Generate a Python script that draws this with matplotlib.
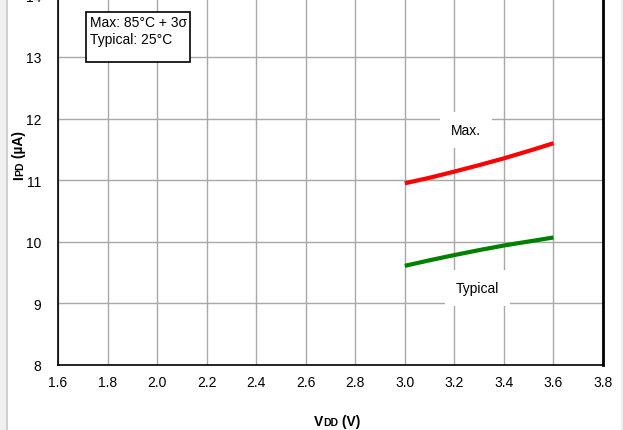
import matplotlib
matplotlib.use("Agg")
import matplotlib.pyplot as plt
from matplotlib.offsetbox import TextArea, HPacker, AnchoredOffsetbox
from matplotlib.patches import Rectangle

plt.rcParams['font.family'] = ['Liberation Sans', 'DejaVu Sans']

# data
vdd = [3.0, 3.1, 3.2, 3.3, 3.4, 3.5, 3.6]
ipd_max = [10.95, 11.04, 11.14, 11.245, 11.355, 11.475, 11.6]
ipd_typ = [9.61, 9.70, 9.785, 9.865, 9.94, 10.005, 10.07]
xticks = [1.6, 1.8, 2.0, 2.2, 2.4, 2.6, 2.8, 3.0, 3.2, 3.4, 3.6, 3.8]
yticks = [8, 9, 10, 11, 12, 13, 14]

fig = plt.figure(figsize=(6.23, 4.31), dpi=100)
W, H = 623, 431
ax = fig.add_axes([58 / W, (H - 366) / H, 545 / W, 369.6 / H])

ax.plot(vdd, ipd_max, color='#ff0000', lw=3, solid_capstyle='butt')
ax.plot(vdd, ipd_typ, color='#008000', lw=3, solid_capstyle='butt')

ax.set_xlim(1.6, 3.8)
ax.set_ylim(8, 14)
ax.set_xticks(xticks)
ax.set_xticklabels(['%.1f' % t for t in xticks])
ax.set_yticks(yticks)
ax.tick_params(length=0, labelsize=10)
ax.tick_params(axis='x', pad=7)
ax.tick_params(axis='y', pad=12)
ax.grid(True, color='#a8a8a8', lw=1)
ax.set_axisbelow(True)
for s in ['left', 'bottom']:
    ax.spines[s].set_linewidth(1.2)
ax.spines['right'].set_linewidth(2)
ax.spines['top'].set_visible(False)

# curve labels with white background
ax.text(3.247, 11.82, 'Max.', ha='center', va='center', fontsize=10,
        bbox=dict(facecolor='white', edgecolor='none', pad=8))
ax.text(3.294, 9.25, 'Typical', ha='center', va='center', fontsize=10,
        bbox=dict(facecolor='white', edgecolor='none', pad=8))

# condition box
fig.add_artist(Rectangle((86 / W, (H - 63) / H), 104 / W, 50 / H,
                         transform=fig.transFigure, facecolor='white',
                         edgecolor='black', lw=1.2, zorder=5))
fig.text(90 / W, (H - 23) / H, 'Max: 85°C + 3σ', ha='left', va='center',
         fontsize=10, zorder=6)
fig.text(90 / W, (H - 40) / H, 'Typical: 25°C', ha='left', va='center',
         fontsize=10, zorder=6)

# x label: V DD (V) with small DD
bold = dict(fontweight='bold', fontsize=10)
small = dict(fontweight='bold', fontsize=7.5)
xl = HPacker(children=[TextArea('V', textprops=bold),
                       TextArea('DD', textprops=small),
                       TextArea(' (V)', textprops=bold)],
             align='baseline', pad=0, sep=0)
fig.add_artist(AnchoredOffsetbox(loc='center', child=xl, frameon=False,
                                 bbox_to_anchor=(337 / W, (H - 422) / H),
                                 bbox_transform=fig.transFigure, pad=0,
                                 borderpad=0))

# y label: I PD (uA), rotated, pieces laid end to end
renderer = fig.canvas.get_renderer()
yb = H - 180
xb = 23
for s, props in [('I', bold), ('PD', small), (' (µA)', bold)]:
    t = fig.text(xb / W, yb / H, s, rotation=90, rotation_mode='anchor',
                 ha='left', va='baseline', **props)
    yb += t.get_window_extent(renderer).height

# window border bits
fig.add_artist(Rectangle((0, 0), 6 / W, 1, transform=fig.transFigure,
                         facecolor='#f0f0f0', edgecolor='none'))
fig.add_artist(Rectangle((6 / W, 0), 1.5 / W, 1, transform=fig.transFigure,
                         facecolor='#d0d0d0', edgecolor='none'))
fig.add_artist(Rectangle((621 / W, 0), 2 / W, 1, transform=fig.transFigure,
                         facecolor='#f0f0f0', edgecolor='none'))

fig.savefig('out.png', dpi=100)
